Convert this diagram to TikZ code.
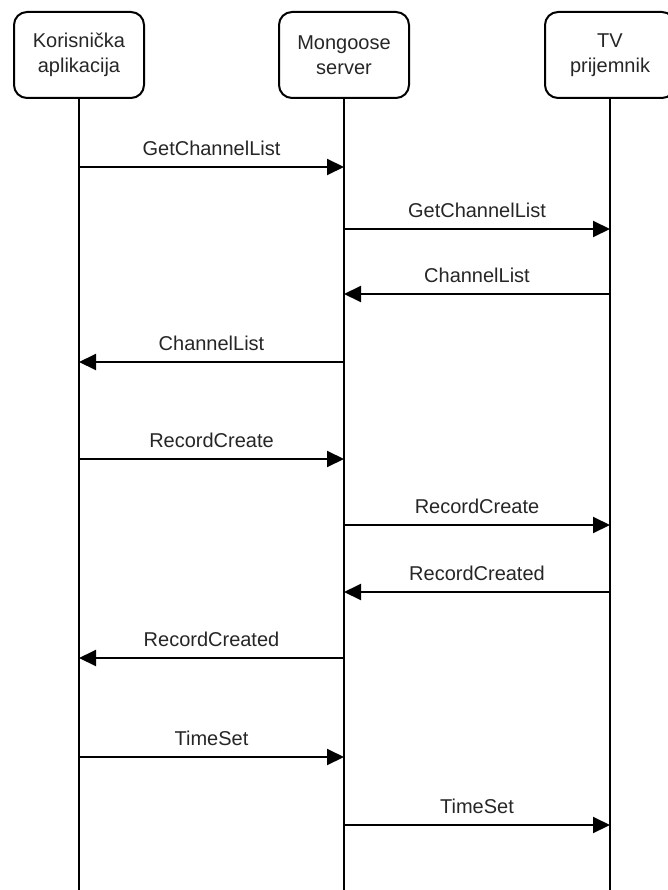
\documentclass[tikz,border=0pt]{standalone}
\usepackage{fontspec}
\setmainfont{Liberation Sans}
\usetikzlibrary{arrows.meta}
\begin{document}
\begin{tikzpicture}[x=1pt,y=-1pt,
		actor/.style={draw,line width=2pt,rounded corners=13pt,minimum width=130pt,minimum height=86pt,align=center,font=\fontsize{20}{25}\selectfont,text=black!85},
		msg/.style={line width=2pt,-{Triangle[length=17pt,width=16pt]}},
		lbl/.style={font=\fontsize{20}{24}\selectfont,text=black!85,inner sep=0pt,above=10pt}]
		\useasboundingbox (0,0) rectangle (668,890);
		\node[actor] (app) at (79,55) {Korisnička\\aplikacija};
		\node[actor] (srv) at (344,55) {Mongoose\\server};
		\node[actor] (tv) at (610,55) {TV\\prijemnik};
		% lifelines
		\foreach \n in {app,srv,tv}
			\draw[line width=2pt] (\n.south) -- (\n.south |- 0,890);
		% messages
		\foreach \y/\a/\b/\t in {167/app/srv/GetChannelList, 229/srv/tv/GetChannelList, 294/tv/srv/ChannelList, 362/srv/app/ChannelList,
				459/app/srv/RecordCreate, 525/srv/tv/RecordCreate, 592/tv/srv/RecordCreated, 658/srv/app/RecordCreated,
				757/app/srv/TimeSet, 825/srv/tv/TimeSet}
			\draw[msg] (\a |- 0,\y) -- node[lbl] {\t} (\b |- 0,\y);
	\end{tikzpicture}
\end{document}
